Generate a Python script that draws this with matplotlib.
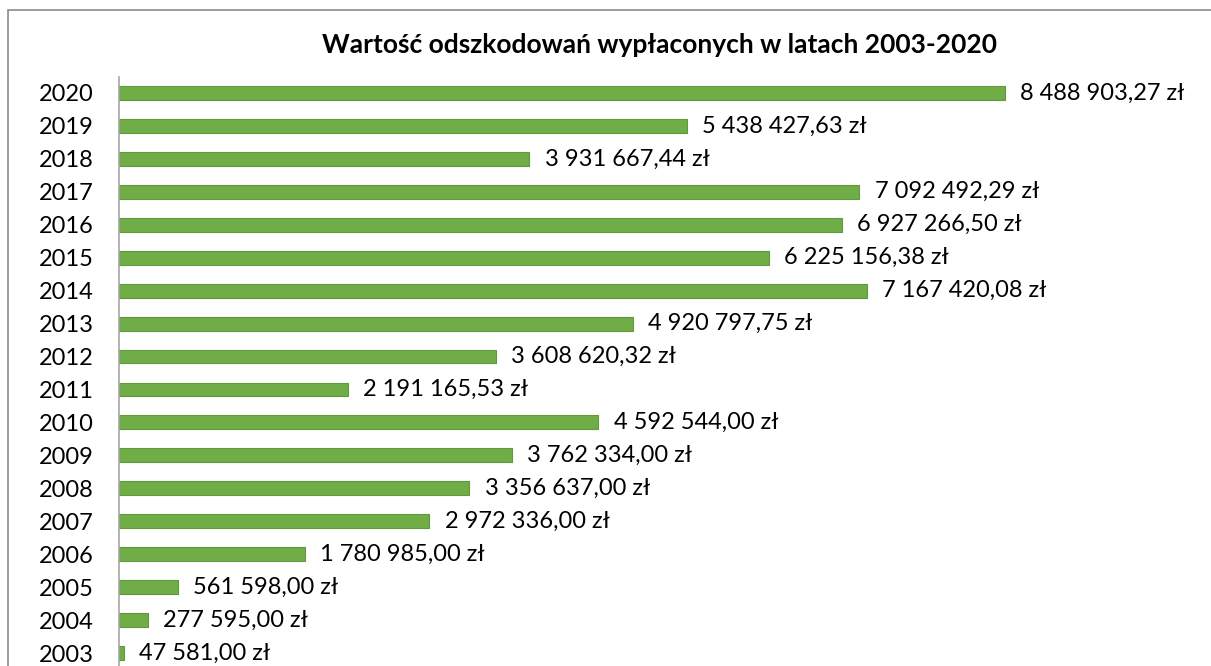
import matplotlib
matplotlib.use("Agg")
import matplotlib.pyplot as plt
from matplotlib.patches import Rectangle

years = ["2003", "2004", "2005", "2006", "2007", "2008", "2009", "2010", "2011",
         "2012", "2013", "2014", "2015", "2016", "2017", "2018", "2019", "2020"]
values = [47581.00, 277595.00, 561598.00, 1780985.00, 2972336.00, 3356637.00,
          3762334.00, 4592544.00, 2191165.53, 3608620.32, 4920797.75, 7167420.08,
          6225156.38, 6927266.50, 7092492.29, 3931667.44, 5438427.63, 8488903.27]
title = "Wartość odszkodowań wypłaconych w latach 2003-2020"

def fmt(v):
    s = f"{v:,.2f}"
    ip, dp = s.split(".")
    return ip.replace(",", " ") + "," + dp + " zł"

plt.rcParams['font.family'] = ['Lato', 'DejaVu Sans']

W, H = 1211, 666
fig = plt.figure(figsize=(W / 100, H / 100), dpi=100)

# figure border (chart area cropped on right/bottom)
fig.patches.append(Rectangle((8 / W, -0.1), 1.2, (H - 10) / H + 0.1,
                             transform=fig.transFigure, fill=False,
                             edgecolor="#8c8c8c", linewidth=1.2))

ax_left, ax_right = 119, 1190
ax_top, ax_bottom = 76.5, 669.5
ax = fig.add_axes([ax_left / W, (H - ax_bottom) / H,
                   (ax_right - ax_left) / W, (ax_bottom - ax_top) / H])

px_per_unit = 886 / 8488903.27
xmax = (ax_right - ax_left) / px_per_unit

y = list(range(len(years)))
ax.barh(y, values, height=0.42, color="#70ad47", edgecolor="#5e9a3a", linewidth=0.8)
ax.set_xlim(0, xmax)
ax.set_ylim(-0.5, len(years) - 0.5)
ax.set_yticks(y)
ax.set_yticklabels(years, fontsize=17)
ax.tick_params(axis="y", length=0, pad=18)
ax.set_xticks([])
for s in ["top", "right", "bottom"]:
    ax.spines[s].set_visible(False)
ax.spines["left"].set_color("#a6a6a6")
ax.spines["left"].set_linewidth(1.2)

for yi, v in zip(y, values):
    ax.annotate(fmt(v), (v, yi), xytext=(11, 0), textcoords="offset points",
                va="center", ha="left", fontsize=17)

fig.text(660 / W, 1 - 45 / H, title, ha="center", va="center",
         fontsize=19, fontweight="bold")

fig.savefig("out.png", dpi=100)
